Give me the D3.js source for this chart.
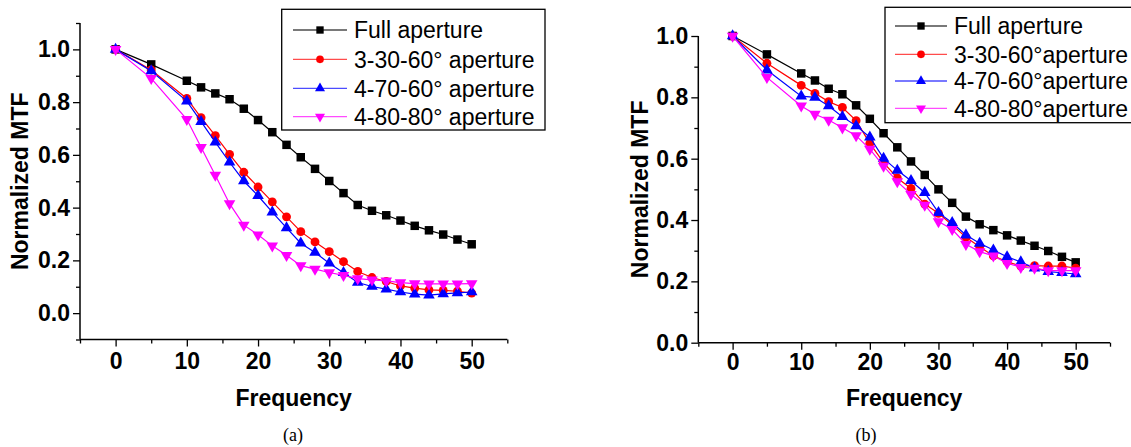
<!DOCTYPE html>
<html>
<head>
<meta charset="utf-8">
<script src="https://cdn.jsdelivr.net/npm/d3@7"></script>
<style>
html,body{margin:0;padding:0;background:#fff;}
svg{display:block;}
text{font-family:"Liberation Sans",Arial,sans-serif;}
</style>
</head>
<body>
<svg id="chart" width="1131" height="447"></svg>
<script>
// ---------- data ----------
const frequency = [0,5,10,12,14,16,18,20,22,24,26,28,30,32,34,36,38,40,42,44,46,48,50];
const seriesNames = ["Full aperture","3-30-60° aperture","4-70-60° aperture","4-80-80° aperture"];
const seriesNamesB = ["Full aperture","3-30-60°aperture","4-70-60°aperture","4-80-80°aperture"];
const seriesColors = ["#000000","#ff0000","#0000ff","#ff00ff"];
const seriesSymbols = ["square","circle","triangle","triangleDown"];

// (a)
const fullA  = [1.0,0.943,0.881,0.856,0.833,0.811,0.775,0.732,0.686,0.638,0.591,0.547,0.501,0.455,0.410,0.388,0.371,0.351,0.331,0.314,0.298,0.279,0.261];
const s3060A = [1.0,0.922,0.814,0.741,0.673,0.602,0.534,0.478,0.422,0.365,0.309,0.270,0.233,0.195,0.158,0.135,0.120,0.103,0.095,0.088,0.086,0.083,0.076];
const s4770A = [1.0,0.918,0.804,0.726,0.648,0.572,0.501,0.445,0.383,0.323,0.265,0.230,0.189,0.153,0.116,0.101,0.091,0.080,0.072,0.068,0.073,0.077,0.080];
const s4880A = [1.0,0.890,0.735,0.629,0.523,0.415,0.334,0.297,0.255,0.219,0.180,0.167,0.154,0.143,0.131,0.126,0.122,0.116,0.112,0.111,0.111,0.111,0.112];

// (b)
const fullB  = [1.0,0.940,0.878,0.855,0.828,0.810,0.774,0.730,0.683,0.637,0.591,0.547,0.500,0.456,0.411,0.386,0.367,0.350,0.333,0.316,0.299,0.280,0.262];
const s3060B = [1.0,0.911,0.839,0.813,0.786,0.767,0.724,0.650,0.587,0.537,0.503,0.452,0.422,0.384,0.344,0.313,0.283,0.264,0.250,0.251,0.250,0.250,0.243];
const s4770B = [1.0,0.889,0.804,0.800,0.772,0.737,0.707,0.670,0.601,0.562,0.528,0.489,0.424,0.391,0.351,0.324,0.302,0.280,0.263,0.243,0.232,0.228,0.224];
const s4880B = [1.0,0.865,0.772,0.745,0.726,0.701,0.675,0.631,0.576,0.525,0.484,0.449,0.395,0.370,0.321,0.297,0.283,0.259,0.246,0.243,0.235,0.235,0.235];

const xTicksMajor = [0,10,20,30,40,50];
const xTicksMinor = [-5,5,15,25,35,45,55];
const yTicksMajorA = [0.0,0.2,0.4,0.6,0.8,1.0];
const yTicksMinorA = [-0.1,0.1,0.3,0.5,0.7,0.9,1.1];
const yTicksMajorB = [0.0,0.2,0.4,0.6,0.8,1.0];
const yTicksMinorB = [0.1,0.3,0.5,0.7,0.9];

const svg = d3.select("#chart");

function symbolPath(kind, big){
  const f = big ? 1 : 0.75;
  if(kind==="square") return d3.symbol(d3.symbolSquare, 72*f)();
  if(kind==="circle") return d3.symbol(d3.symbolCircle, 62*f)();
  return d3.symbol(d3.symbolTriangle, 58*f)();
}

function panel(cfg){
  const g = svg.append("g");
  const x = d3.scaleLinear().domain([-5,55]).range([cfg.x0, cfg.x1]);
  const y = d3.scaleLinear().domain(cfg.yDomain).range([cfg.y0, cfg.y1]);

  // y axis
  const yAxis = d3.axisLeft(y).tickValues(cfg.yMajor).tickFormat(d3.format(".1f")).tickSize(7).tickPadding(3);
  const ya = g.append("g").attr("transform",`translate(${cfg.x0},0)`).call(yAxis);
  const yMinor = d3.axisLeft(y).tickValues(cfg.yMinor).tickFormat("").tickSize(4);
  const ym = g.append("g").attr("transform",`translate(${cfg.x0},0)`).call(yMinor);
  // x axis
  const xAxis = d3.axisBottom(x).tickValues(xTicksMajor).tickFormat(d3.format("d")).tickSize(7).tickPadding(cfg.xPad);
  const xa = g.append("g").attr("transform",`translate(0,${cfg.y0})`).call(xAxis);
  const xMinor = d3.axisBottom(x).tickValues(xTicksMinor).tickFormat("").tickSize(4);
  const xm = g.append("g").attr("transform",`translate(0,${cfg.y0})`).call(xMinor);
  [ya,ym,xa,xm].forEach(a=>{
    a.select(".domain").attr("stroke","#000").attr("stroke-width",1.5);
    a.selectAll(".tick line").attr("stroke","#000").attr("stroke-width",1.3);
    a.selectAll(".tick text").attr("fill","#000").style("font-family","'Liberation Sans',Arial,sans-serif")
      .style("font-size","23px").style("font-weight","bold");
  });
  ya.selectAll(".domain").attr("d",`M0,${cfg.y0}V${cfg.y1}`);
  xa.selectAll(".domain").attr("d",`M${cfg.x0},0H${cfg.x1}`);
  ym.selectAll(".domain").remove();
  xm.selectAll(".domain").remove();

  // titles
  g.append("text").attr("x",(cfg.x0+cfg.x1)/2).attr("y",cfg.xTitleY)
    .attr("text-anchor","middle").style("font-size","23px").style("font-weight","bold").text("Frequency");
  g.append("text").attr("transform",`translate(${cfg.yTitleX},${(cfg.y0+cfg.y1)/2}) rotate(-90)`)
    .attr("text-anchor","middle").attr("dy","0.35em").style("font-size","23px").style("font-weight","bold").text("Normalized MTF");

  // series
  cfg.series.forEach((vals,i)=>{
    const pts = frequency.map((f,j)=>[f,vals[j]]);
    const line = d3.line().x(d=>x(d[0])).y(d=>y(d[1]));
    g.append("path").attr("d",line(pts)).attr("fill","none").attr("stroke",seriesColors[i]).attr("stroke-width",1.2);
    const sym = symbolPath(seriesSymbols[i], true);
    g.selectAll(null).data(pts).enter().append("path")
      .attr("d",sym).attr("fill",seriesColors[i])
      .attr("transform",d=>`translate(${x(d[0])},${y(d[1])})${seriesSymbols[i]==="triangleDown"?" rotate(180)":""}`);
  });

  // legend
  const L = cfg.legend;
  g.append("rect").attr("x",L.x).attr("y",L.y).attr("width",L.w).attr("height",L.h)
    .attr("fill","#fff").attr("stroke","#000").attr("stroke-width",1.3);
  cfg.names.forEach((nm,i)=>{
    const cy = L.rowY[i];
    g.append("line").attr("x1",L.lx0).attr("x2",L.lx1).attr("y1",cy).attr("y2",cy)
      .attr("stroke",seriesColors[i]).attr("stroke-width",1.3).attr("stroke-opacity",0.7);
    g.append("path").attr("d",symbolPath(seriesSymbols[i], false)).attr("fill",seriesColors[i])
      .attr("transform",`translate(${(L.lx0+L.lx1)/2},${cy})${seriesSymbols[i]==="triangleDown"?" rotate(180)":""}`);
    g.append("text").attr("x",L.tx).attr("y",cy).attr("dy","0.36em")
      .style("font-size","23px").attr("fill","#000").text(nm);
  });
}

panel({
  x0:80, x1:507.3, y0:339.5, y1:23, yDomain:[-0.1,1.1],
  yMajor:yTicksMajorA, yMinor:yTicksMinorA, xPad:6,
  xTitleY:406, yTitleX:20,
  series:[fullA,s3060A,s4770A,s4880A], names:seriesNames,
  legend:{x:281.7,y:9.3,w:263.3,h:120.7,rowY:[30,59.3,88.3,116.7],lx0:293,lx1:347,tx:354}
});

panel({
  x0:698.3, x1:1110, y0:342.7, y1:36, yDomain:[0,1],
  yMajor:yTicksMajorB, yMinor:yTicksMinorB, xPad:4,
  xTitleY:406, yTitleX:640,
  series:[fullB,s3060B,s4770B,s4880B], names:seriesNamesB,
  legend:{x:885,y:7.3,w:250,h:115.4,rowY:[26,54.3,81,108.3],lx0:895,lx1:947,tx:954}
});

// captions
svg.append("text").attr("x",293).attr("y",441).attr("text-anchor","middle")
  .style("font-family","'Liberation Serif','Times New Roman',serif").style("font-size","18px").text("(a)");
svg.append("text").attr("x",866).attr("y",441).attr("text-anchor","middle")
  .style("font-family","'Liberation Serif','Times New Roman',serif").style("font-size","18px").text("(b)");
</script>
</body>
</html>
